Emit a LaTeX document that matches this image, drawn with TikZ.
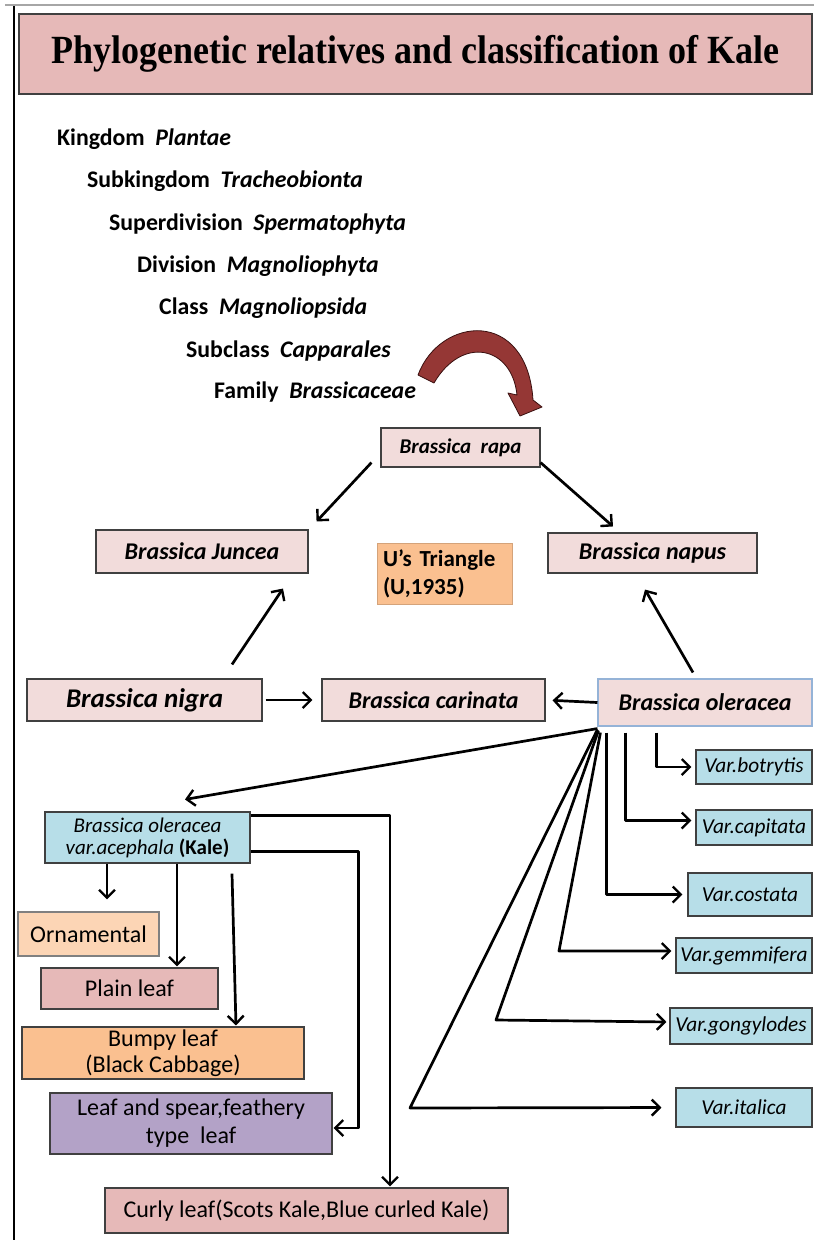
\documentclass[tikz,border=0pt]{standalone}
\usepackage{fontspec}
\setmainfont{Carlito}
\newfontfamily\titlefont{Liberation Serif}
\usetikzlibrary{arrows.meta}
\definecolor{titlefill}{HTML}{E6B9B8}
\definecolor{pinkbox}{HTML}{F2DCDB}
\definecolor{bluebox}{HTML}{B7DEE8}
\definecolor{orangebox}{HTML}{FAC090}
\definecolor{lightorange}{HTML}{FCD5B5}
\definecolor{rosebox}{HTML}{E6B9B8}
\definecolor{purplebox}{HTML}{B3A2C7}
\definecolor{boxline}{HTML}{404040}
\definecolor{oleline}{HTML}{95B3D7}
\definecolor{curvefill}{HTML}{953735}
\definecolor{curveline}{HTML}{3A1010}
\begin{document}
\begin{tikzpicture}[x=1pt,y=-1pt,
  sz/.style 2 args={minimum width=#1pt, minimum height=#2pt},
  box/.style={draw=boxline, line width=1.1pt, inner sep=0pt},
  brbox/.style={box, fill=pinkbox, font=\bfseries\itshape\fontsize{24}{26}\selectfont},
  varbox/.style={box, fill=bluebox, font=\itshape\fontsize{21.3}{24}\selectfont},
  leafbox/.style={box, font=\fontsize{24}{27}\selectfont, align=center},
  tax/.style={anchor=base west, inner sep=0pt, font=\bfseries\fontsize{23.8}{28}\selectfont},
  arr/.style={line width=2.7pt, line join=round, -{Straight Barb[length=8pt,width=16pt,line width=2.4pt]}}
]
\useasboundingbox (0,0) rectangle (814,1240);
\fill[white] (0,0) rectangle (814,1240);
% frame
\draw[gray!70, line width=2pt] (5,5) -- (814,5);
\draw[black, line width=2.5pt] (14,6) -- (14,1240);
% title
\node[draw=boxline, fill=titlefill, line width=1.5pt, sz={793}{80}, inner sep=0pt] (title) at (415.5,54)
  {\titlefont\bfseries\fontsize{40}{40}\selectfont\scalebox{0.9}[1]{Phylogenetic relatives and classification of Kale}};
% taxonomy
\node[tax] (t1) at (57,145) {Kingdom\hspace{0.45em}\textit{Plantae}};
\node[tax] (t2) at (87,187) {Subkingdom\hspace{0.45em}\textit{Tracheobionta}};
\node[tax] (t3) at (109,230) {Superdivision\hspace{0.45em}\textit{Spermatophyta}};
\node[tax] (t4) at (137,272) {Division\hspace{0.45em}\textit{Magnoliophyta}};
\node[tax] (t5) at (159,314) {Class\hspace{0.45em}\textit{Magnoliopsida}};
\node[tax] (t6) at (186,357) {Subclass\hspace{0.45em}\textit{Capparales}};
\node[tax] (t7) at (214,398) {Family\hspace{0.45em}\textit{Brassicaceae}};
% curved arrow
\filldraw[fill=curvefill, draw=curveline, line width=0.8pt, line join=round]
  (418,375) .. controls (440,316) and (527,308) .. (533,400)
  -- (542,407) -- (520,416) -- (508,393) -- (517,395)
  .. controls (512,346) and (462,335) .. (434,383) -- cycle;
% U's triangle
\node[brbox, sz={159}{39}, font=\bfseries\itshape\fontsize{21}{24}\selectfont] (rapa) at (460.5,447.5) {Brassica\ \ rapa};
\node[brbox, sz={212}{43}] (juncea) at (202,551.5) {Brassica Juncea};
\node[fill=orangebox, draw=orangebox!85!black, line width=0.6pt, sz={135}{61}, inner sep=6pt, align=left,
      font=\bfseries\fontsize{23}{28}\selectfont, text width=123pt] (utri) at (444.5,573.5) {U’s Triangle\\(U,1935)};
\node[brbox, sz={209}{40}] (napus) at (652.5,553) {Brassica napus};
\node[brbox, sz={235}{42}, font=\bfseries\itshape\fontsize{27}{28}\selectfont] (nigra) at (144.5,700) {Brassica nigra};
\node[brbox, sz={223}{42}] (carinata) at (433.5,700) {Brassica carinata};
\node[brbox, draw=oleline, sz={214}{47}] (ole) at (705,702.5) {Brassica oleracea};
% varieties
\node[varbox, sz={116}{34}] (botrytis) at (754,767) {Var.botrytis};
\node[varbox, sz={116}{35}] (capitata) at (754,827.5) {Var.capitata};
\node[varbox, sz={124}{43}] (costata) at (750,894.5) {Var.costata};
\node[varbox, sz={136}{35}] (gemmifera) at (744,955.5) {Var.gemmifera};
\node[varbox, sz={142}{36}] (gongylodes) at (741,1026) {Var.gongylodes};
\node[varbox, sz={136}{39}] (italica) at (744,1107.5) {Var.italica};
% kale
\node[box, fill=bluebox, sz={205}{51}, align=center, font=\fontsize{21}{22}\selectfont] (kale) at (147.5,837.5)
  {\textit{Brassica oleracea}\\\textit{var.acephala} \textbf{(Kale)}};
\node[leafbox, fill=lightorange, draw=gray, sz={141}{44}] (orn) at (88.5,934) {Ornamental};
\node[leafbox, fill=rosebox, sz={177}{41}] (plain) at (129.5,988.5) {Plain leaf};
\node[leafbox, fill=orangebox, sz={282}{52}, font=\fontsize{24}{26}\selectfont] (bumpy) at (163,1053) {Bumpy leaf\\(Black Cabbage)};
\node[leafbox, fill=purplebox, sz={282}{61}, font=\fontsize{24}{28}\selectfont] (spear) at (191,1123.5) {Leaf and spear,feathery\\type\ \ leaf};
\node[leafbox, fill=rosebox, sz={403}{45}] (curly) at (306.5,1210.5) {Curly leaf(Scots Kale,Blue curled Kale)};
% corner coordinates
\coordinate (gemC) at (559,951);
\coordinate (gonC) at (496,1020);
\coordinate (itaC) at (410,1108);
% triangle arrows
\draw[arr] ([xshift=-9pt,yshift=5pt]rapa.south west) -- ([xshift=8pt,yshift=8pt]juncea.north east);
\draw[arr] ([yshift=5pt]rapa.south east) -- ([xshift=-39.5pt,yshift=6pt]napus.north);
\draw[arr] ([xshift=87.5pt,yshift=14pt]nigra.north) -- ([xshift=81pt,yshift=-15pt]juncea.south);
\draw[arr] ([xshift=-12pt,yshift=6pt]ole.north) -- ([xshift=-7.5pt,yshift=-16pt]napus.south);
\draw[arr, shorten <=3pt, shorten >=9pt] (nigra.east) -- (carinata.east -| carinata.west);
\draw[arr, shorten >=7pt] (ole.west) -- (carinata.east);
% oleracea to varieties
\draw[arr] ([yshift=-2pt]ole.south west) -- ([xshift=37.5pt,yshift=12pt]kale.north);
\draw[arr, shorten >=4pt] ([xshift=59pt,yshift=-6pt]ole.south west) |- (botrytis.west);
\draw[arr, shorten >=4pt] ([xshift=28pt,yshift=-6pt]ole.south west) |- ([yshift=7pt]capitata.west);
\draw[arr, shorten >=5pt] ([xshift=9pt,yshift=-6pt]ole.south west) |- (costata.west);
\draw[arr, shorten >=4pt] ([xshift=3pt,yshift=-6pt]ole.south west) -- (gemC) -- ([yshift=4.5pt]gemmifera.west);
\draw[arr, shorten >=3pt] ([xshift=1pt,yshift=-4pt]ole.south west) -- (gonC) -- ([yshift=4pt]gongylodes.west);
\draw[arr, shorten >=14pt] ([yshift=-3pt]ole.south west) -- (itaC) -- (italica.west);
% kale to types
\draw[arr] ([xshift=-40.5pt]kale.south) coordinate (k1) -- ([yshift=12pt]k1 |- orn.north);
\draw[arr, shorten >=1pt] ([xshift=29.5pt]kale.south) coordinate (k2) -- (k2 |- plain.north);
\draw[arr, shorten >=1pt] ([xshift=84.5pt,yshift=-10pt]kale.south) -- ([xshift=73pt]bumpy.north);
\draw[arr, shorten >=1pt] ([yshift=-4pt]kale.north east) -| ([xshift=83.5pt]curly.north);
\draw[arr, shorten >=1pt] ([yshift=12pt]kale.south east) -| ([xshift=26pt,yshift=-4.5pt]spear.east) -- ([yshift=-4.5pt]spear.east);
\end{tikzpicture}
\end{document}
